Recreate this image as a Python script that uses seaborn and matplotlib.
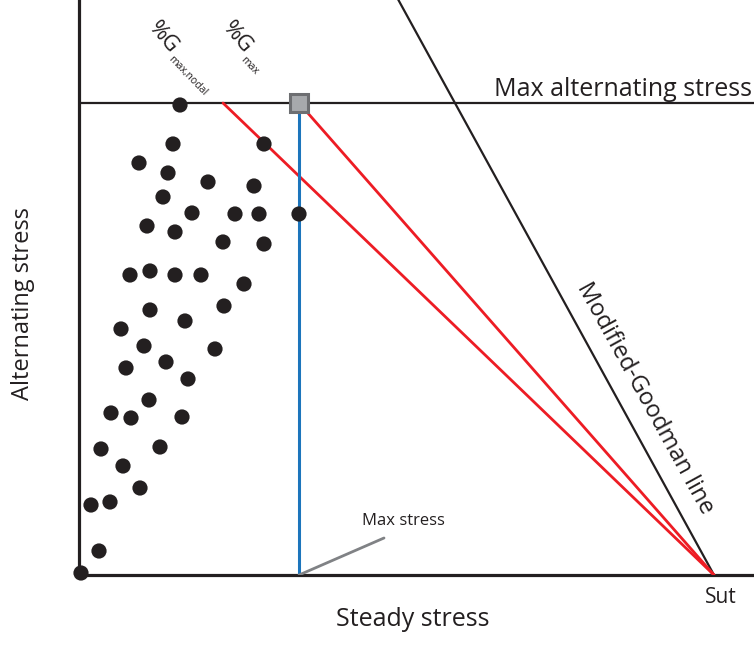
import numpy as np
import pandas as pd
import matplotlib
matplotlib.use("Agg")
import matplotlib.pyplot as plt
import seaborn as sns

# Stress values (arbitrary units): steady stress on x, alternating stress on y
sut = 635            # ultimate tensile strength (steady-stress intercept)
se = 1157            # endurance intercept of the modified-Goodman line
max_alt = 472        # maximum alternating stress
max_steady = 220     # steady stress at the max-stress point
nodal_alt_x = 144    # where the %G max,nodal load line meets the max alternating stress

steady = [101, 94, 185, 60, 89, 129, 175, 84, 113, 156, 180, 220, 68, 96,
          144, 185, 51, 71, 96, 122, 165, 71, 145, 106, 42, 65, 136, 87,
          47, 109, 70, 32, 52, 103, 22, 81, 44, 61, 12, 31, 20, 2]
alternating = [470, 431, 431, 412, 402, 393, 389, 378, 362, 361, 361, 361, 349, 343,
               333, 331, 300, 304, 300, 300, 291, 265, 269, 254, 246, 229, 226, 213,
               207, 196, 175, 162, 157, 158, 126, 128, 109, 87, 70, 73, 24, 2]

points = pd.DataFrame({"steady": steady, "alternating": alternating})

sns.set_style("white")
plt.rcParams["font.family"] = ["Open Sans", "DejaVu Sans"]

W, H = 754, 651
fig = plt.figure(figsize=(W / 100, H / 100), dpi=100)
ax = fig.add_axes([79 / W, (H - 575) / H, (W - 79) / W, 575 / H])
ax.set_xlim(0, 675)
ax.set_ylim(0, 575)

for side in ("top", "right"):
    ax.spines[side].set_visible(False)
for side in ("left", "bottom"):
    ax.spines[side].set_color("#231f20")
    ax.spines[side].set_linewidth(2.3)
ax.set_xticks([])
ax.set_yticks([])

ink = "#231f20"
red = "#ed1c24"
blue = "#1c75bc"

# Modified-Goodman line from (0, Se) to (Sut, 0)
ax.plot([0, sut], [se, 0], color=ink, lw=1.6, zorder=2)
# Maximum alternating stress
ax.axhline(max_alt, color=ink, lw=1.6, zorder=2)
# Load lines through Sut
ax.plot([nodal_alt_x, sut], [max_alt, 0], color=red, lw=2.0, zorder=3)
ax.plot([max_steady, sut], [max_alt, 0], color=red, lw=2.0, zorder=3)
# Max stress vertical
ax.plot([max_steady, max_steady], [0, max_alt], color=blue, lw=2.2, zorder=3)

sns.scatterplot(data=points, x="steady", y="alternating", ax=ax, s=120,
                color=ink, edgecolor="none", zorder=5, clip_on=False, legend=False)

ax.plot([max_steady], [max_alt], marker="s", markersize=13,
        markerfacecolor="#a7a9ac", markeredgecolor="#6d6e71",
        markeredgewidth=2.2, zorder=6, clip_on=False)

# Leader for the max-stress point
ax.plot([max_steady, max_steady + 85], [0, 37], color="#808285", lw=2.0, zorder=4)
ax.text(max_steady + 63, 50, "Max stress", fontsize=12, color=ink,
        ha="left", va="baseline")

# Axis titles
ax.set_xlabel("")
ax.set_ylabel("")
ax.text((413 - 79) / 675, (575 - 619) / 575, "Steady stress", transform=ax.transAxes,
        fontsize=18, color=ink, ha="center", va="center")
ax.text((23 - 79) / 675, (575 - 303) / 575, "Alternating stress", transform=ax.transAxes,
        fontsize=17, color=ink, ha="center", va="center", rotation=90)

ax.annotate("Sut", xy=(sut, 0), xytext=(7 * 0.72, -12 * 0.72),
            textcoords="offset points", ha="center", va="top",
            fontsize=15, color=ink, annotation_clip=False)

ax.annotate("Max alternating stress", xy=(673, max_alt), xytext=(0, 5),
            textcoords="offset points", ha="right", va="baseline",
            fontsize=18, color=ink)

# Label along the Goodman line
ax.text(645 - 79, 575 - 398, "Modified-Goodman line", fontsize=17, color=ink,
        rotation=-61.2, rotation_mode="anchor", ha="center", va="center")

# %G labels with subscripts
ax.text(163 - 79, 575 - 38, "%G", fontsize=16, color=ink, rotation=-50,
        rotation_mode="anchor", ha="center", va="center", clip_on=False)
ax.text(187 - 79, 575 - 76, "max,nodal", fontsize=7.5, color=ink, rotation=-46,
        rotation_mode="anchor", ha="center", va="center", clip_on=False)
ax.text(237 - 79, 575 - 38, "%G", fontsize=16, color=ink, rotation=-50,
        rotation_mode="anchor", ha="center", va="center", clip_on=False)
ax.text(249 - 79, 575 - 66, "max", fontsize=7.5, color=ink, rotation=-46,
        rotation_mode="anchor", ha="center", va="center", clip_on=False)

fig.savefig("out.png", dpi=100)
